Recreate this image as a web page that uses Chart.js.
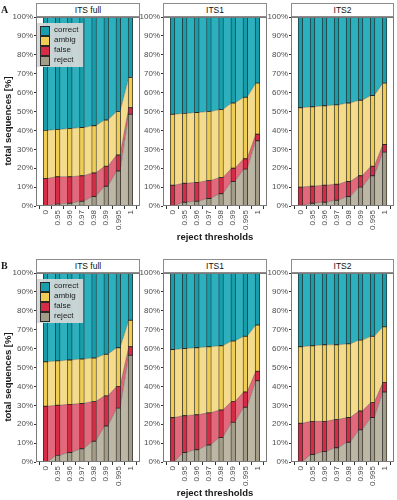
<!DOCTYPE html>
<html>
<head>
<meta charset="utf-8">
<script src="https://cdn.jsdelivr.net/npm/chart.js@4/dist/chart.umd.min.js"></script>
<style>
  body { margin: 0; background: #fff; width: 397px; height: 500px; position: relative; overflow: hidden; font-family: "Liberation Sans", Arial, sans-serif; }
  canvas, .strip, .legend, .lbl { position: absolute; }
  .strip { box-sizing: border-box; border: 1px solid #8c8c8c; background: #fff; font-size: 8.5px; color: #111; text-align: center; line-height: 12px; }
  .legend { box-sizing: border-box; background: rgba(214,216,216,0.92); font-size: 8px; color: #1a1a1a; }
  .legend div { position: absolute; }
  .sw { width: 8px; height: 8px; border: 1px solid #2a2a2a; }
  .lbl { font-weight: bold; color: #1a1a1a; white-space: nowrap; }
</style>
</head>
<body>
<script>
// ---------- data (percent of sequences per threshold) ----------
const thresholds = ['0', '0.95', '0.96', '0.97', '0.98', '0.99', '0.995', '1'];
const categories = ['correct', 'ambig', 'false', 'reject'];
const panelTitles = ['ITS full', 'ITS1', 'ITS2'];

// A
const aFullReject  = [0, 1, 1.5, 2.5, 5, 10.5, 18.5, 48.5];
const aFullFalse   = [14.5, 14.5, 14, 13.5, 12.5, 10.5, 8.5, 3.5];
const aFullAmbig   = [25.5, 25, 25.5, 25.5, 25, 24.5, 23, 16];
const aFullCorrect = [60, 59.5, 59, 58.5, 57.5, 54.5, 50, 32];

const aIts1Reject  = [0, 2, 2.5, 4, 6.5, 13, 19.5, 34.5];
const aIts1False   = [11, 10, 10, 9.5, 8.5, 7, 5.5, 3.5];
const aIts1Ambig   = [37.5, 37, 37, 36.5, 36, 34.5, 32.5, 27];
const aIts1Correct = [51.5, 51, 50.5, 50, 49, 45.5, 42.5, 35];

const aIts2Reject  = [0, 1.5, 2, 3, 5, 10, 16, 28.5];
const aIts2False   = [10, 9, 9, 8.5, 8, 6, 5, 4];
const aIts2Ambig   = [42, 42, 42, 42, 41.5, 40, 37.5, 32.5];
const aIts2Correct = [48, 47.5, 47, 46.5, 45.5, 44, 41.5, 35];

// B
const bFullReject  = [0, 3.5, 5, 7, 11, 19, 28.5, 56.5];
const bFullFalse   = [29.5, 26.5, 25.5, 24, 21, 16, 11.5, 4.5];
const bFullAmbig   = [23.5, 23.5, 23.5, 23.5, 23, 22, 20.5, 14];
const bFullCorrect = [47, 46.5, 46, 45.5, 45, 43, 39.5, 25];

const bIts1Reject  = [0, 5, 6.5, 9, 13, 21, 29, 43];
const bIts1False   = [23.5, 19.5, 18.5, 17, 14.5, 11, 8, 5];
const bIts1Ambig   = [36, 35.5, 35.5, 35, 34, 32, 29.5, 24.5];
const bIts1Correct = [40.5, 40, 39.5, 39, 38.5, 36, 33.5, 27.5];

const bIts2Reject  = [0, 4, 5.5, 7.5, 10.5, 17, 23.5, 37];
const bIts2False   = [20.5, 17.5, 16, 15, 13, 10, 8, 5];
const bIts2Ambig   = [40.5, 40, 40.5, 39.5, 39, 37.5, 35, 29.5];
const bIts2Correct = [39, 38.5, 38, 38, 37.5, 35.5, 33.5, 28.5];

// ---------- styling ----------
const barColors  = { correct: '#169eac', ambig: '#efcd55', false: '#d72c45', reject: '#a39c86' };
const flowColors = { correct: '#2db0bd', ambig: '#f4dc8c', false: '#e2697b', reject: '#bcb6a5' };
const tickFont = { family: 'Liberation Sans', size: 8 };
const tickColor = '#4d4d4d';

const rows = [
  { letter: 'A', top: 0,   plotTop: 17,  plotBottom: 206, panels: [
      { reject: aFullReject, false: aFullFalse, ambig: aFullAmbig, correct: aFullCorrect },
      { reject: aIts1Reject, false: aIts1False, ambig: aIts1Ambig, correct: aIts1Correct },
      { reject: aIts2Reject, false: aIts2False, ambig: aIts2Ambig, correct: aIts2Correct }] },
  { letter: 'B', top: 256, plotTop: 273, plotBottom: 462, panels: [
      { reject: bFullReject, false: bFullFalse, ambig: bFullAmbig, correct: bFullCorrect },
      { reject: bIts1Reject, false: bIts1False, ambig: bIts1Ambig, correct: bIts1Correct },
      { reject: bIts2Reject, false: bIts2False, ambig: bIts2Ambig, correct: bIts2Correct }] }
];
const panelX = [[36, 140], [163, 267], [291, 394]];

const YW = 30, XH = 32, PAD = 6;
const hw = 0.14; // half width of the flow stubs (bars cover them)

const frame = {
  id: 'frame',
  afterDatasetsDraw(chart) {
    const a = chart.chartArea, c = chart.ctx;
    c.save(); c.strokeStyle = '#7a7a7a'; c.lineWidth = 1;
    c.strokeRect(Math.round(a.left) + 0.5, Math.round(a.top) + 0.5, Math.round(a.right - a.left) - 1, Math.round(a.bottom - a.top) - 1);
    c.restore();
  }
};

function add(tag, cls, css, text) {
  const el = document.createElement(tag);
  if (cls) el.className = cls;
  Object.assign(el.style, css);
  if (text !== undefined) el.textContent = text;
  document.body.appendChild(el);
  return el;
}

function drawPanel(row, p, data) {
  const [x0, x1] = panelX[p];
  const order = ['reject', 'false', 'ambig', 'correct'];
  // cumulative bounds
  const lows = {}, highs = {};
  let run = thresholds.map(() => 0);
  order.forEach(k => {
    lows[k] = run.slice();
    run = run.map((v, i) => v + data[k][i]);
    highs[k] = run.slice();
  });

  const lines = order.map((k, j) => ({
    type: 'line',
    data: highs[k].flatMap((v, i) => [{ x: i - hw, y: v }, { x: i + hw, y: v }]),
    backgroundColor: flowColors[k],
    borderColor: 'rgba(40,40,40,0.45)',
    borderWidth: 0.7,
    pointRadius: 0,
    tension: 0,
    fill: j === 0 ? 'origin' : '-1',
    order: 2
  }));
  const bars = order.map(k => ({
    type: 'bar',
    data: thresholds.map((t, i) => ({ x: i, y: [lows[k][i], highs[k][i]] })),
    backgroundColor: barColors[k],
    borderColor: '#2a2a2a',
    borderWidth: 0.8,
    borderSkipped: false,
    barThickness: 4.6,
    grouped: false,
    order: 1
  }));

  const w = (x1 - x0) + YW + PAD, h = (row.plotBottom - row.plotTop) + PAD + XH;
  const cv = add('canvas', null, { left: (x0 - YW) + 'px', top: (row.plotTop - PAD) + 'px' });
  cv.width = w; cv.height = h;

  new Chart(cv.getContext('2d'), {
    data: { datasets: lines.concat(bars) },
    options: {
      responsive: false, animation: false, devicePixelRatio: 1,
      layout: { padding: { top: PAD, right: PAD, left: 0, bottom: 0 } },
      plugins: { legend: { display: false }, tooltip: { enabled: false } },
      scales: {
        x: {
          type: 'linear', min: -0.25, max: 7.25,
          afterBuildTicks: s => { s.ticks = thresholds.map((t, i) => ({ value: i })); },
          afterFit: s => { s.height = XH; },
          ticks: { callback: (v, i) => thresholds[i], minRotation: 90, maxRotation: 90, autoSkip: false, font: tickFont, color: tickColor, padding: 1 },
          grid: { drawOnChartArea: false, tickLength: 3, color: '#333' },
          border: { display: false }
        },
        y: {
          min: 0, max: 100,
          afterFit: s => { s.width = YW; },
          ticks: { stepSize: 5, callback: v => v + '%', font: tickFont, color: tickColor, padding: 1 },
          grid: { drawOnChartArea: false, tickLength: 2, color: '#333' },
          border: { display: false }
        }
      }
    },
    plugins: [frame]
  });

  add('div', 'strip', { left: x0 + 'px', top: (row.plotTop - 14) + 'px', width: (x1 - x0) + 'px', height: '14px' }, panelTitles[p]);
}

rows.forEach(row => {
  row.panels.forEach((d, p) => drawPanel(row, p, d));

  // legend inside first panel
  const lg = add('div', 'legend', { left: '37px', top: (row.plotTop + 6) + 'px', width: '46px', height: '44px' });
  categories.forEach((k, i) => {
    const sw = document.createElement('div');
    sw.className = 'sw';
    Object.assign(sw.style, { left: '3px', top: (3 + i * 10) + 'px', background: barColors[k] });
    lg.appendChild(sw);
    const tx = document.createElement('div');
    Object.assign(tx.style, { left: '17px', top: (2 + i * 10) + 'px', lineHeight: '10px' });
    tx.textContent = k;
    lg.appendChild(tx);
  });

  add('div', 'lbl', { left: '1px', top: (row.top + 4) + 'px', fontFamily: 'Liberation Serif', fontSize: '10px' }, row.letter);
  add('div', 'lbl', { left: '215px', top: (row.plotBottom + 25) + 'px', transform: 'translateX(-50%)', fontSize: '9.5px' }, 'reject thresholds');
  add('div', 'lbl', { left: '7px', top: ((row.plotTop + row.plotBottom) / 2 + 9) + 'px', transform: 'translate(-50%,-50%) rotate(-90deg)', fontSize: '9.5px' }, 'total sequences [%]');
});
</script>
</body>
</html>
